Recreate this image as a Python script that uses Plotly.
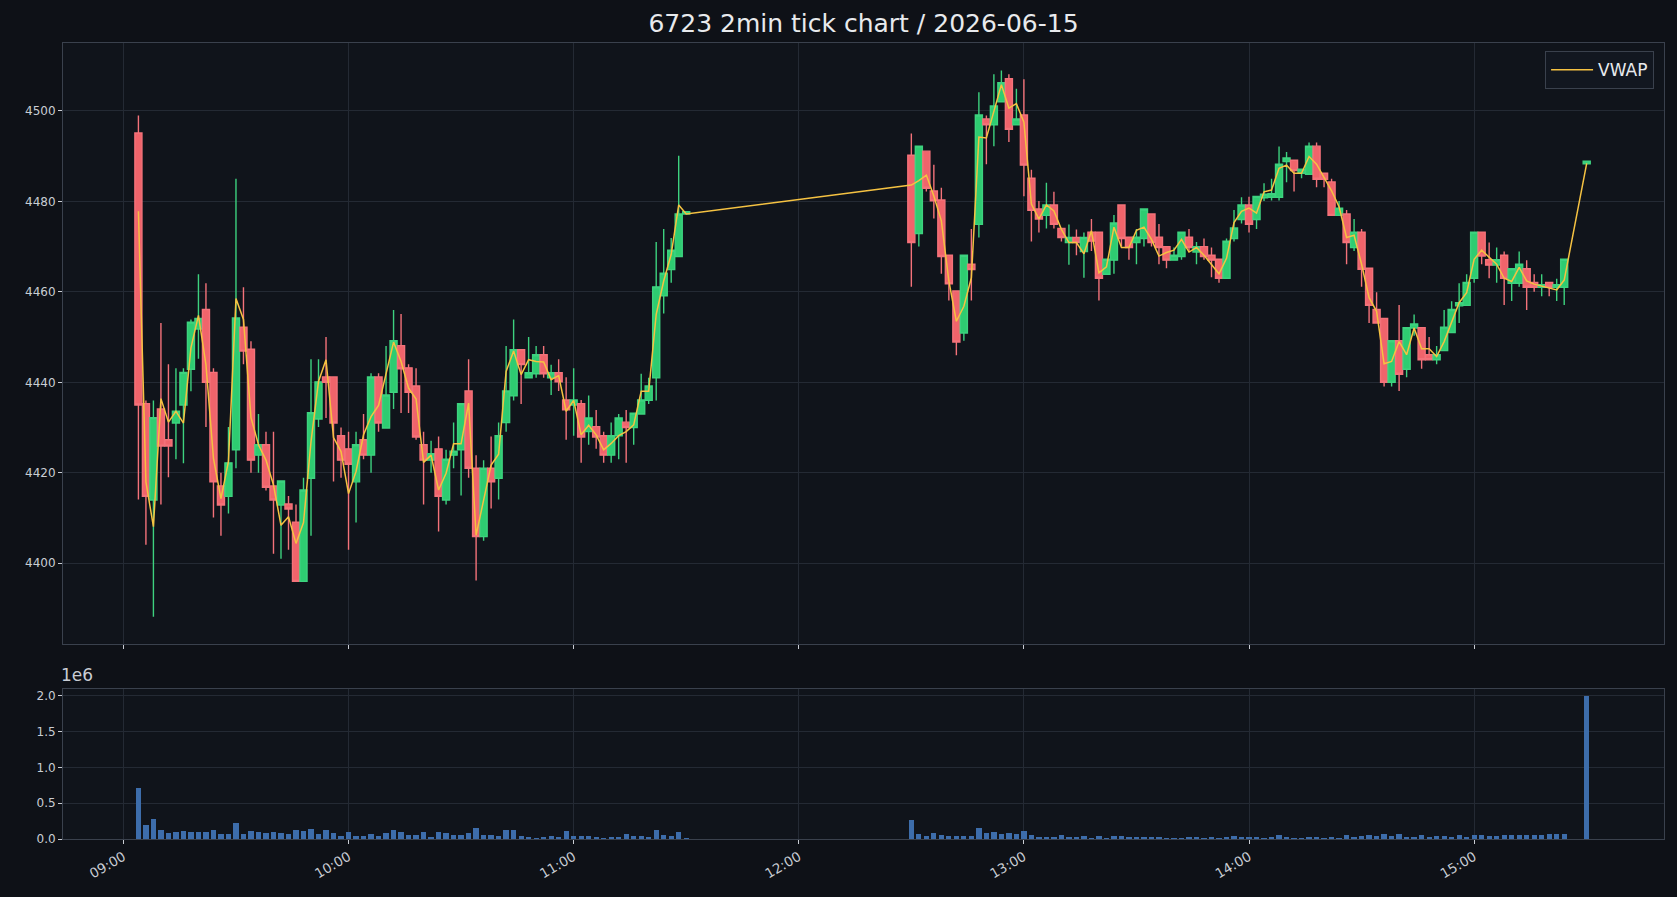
import plotly.graph_objects as go

DATE = "2026-06-15"
TITLE = "6723 2min tick chart / 2026-06-15"

# ---------------- morning session bars ----------------
am_time = [
    "09:04", "09:06", "09:08", "09:10", "09:12", "09:14", "09:16", "09:18", "09:20", "09:22",
    "09:24", "09:26", "09:28", "09:30", "09:32", "09:34", "09:36", "09:38", "09:40", "09:42",
    "09:44", "09:46", "09:48", "09:50", "09:52", "09:54", "09:56", "09:58", "10:00", "10:02",
    "10:04", "10:06", "10:08", "10:10", "10:12", "10:14", "10:16", "10:18", "10:20", "10:22",
    "10:24", "10:26", "10:28", "10:30", "10:32", "10:34", "10:36", "10:38", "10:40", "10:42",
    "10:44", "10:46", "10:48", "10:50", "10:52", "10:54", "10:56", "10:58", "11:00", "11:02",
    "11:04", "11:06", "11:08", "11:10", "11:12", "11:14", "11:16", "11:18", "11:20", "11:22",
    "11:24", "11:26", "11:28", "11:30",
]
am_open = [
    4495.1, 4435.3, 4414.0, 4434.1, 4427.3, 4431.0, 4435.0, 4442.9, 4451.8, 4456.1,
    4442.2, 4417.1, 4414.8, 4425.1, 4452.2, 4447.3, 4423.9, 4426.2, 4417.1, 4412.9,
    4413.1, 4409.1, 4396.0, 4418.8, 4431.9, 4441.2, 4441.2, 4428.2, 4425.3, 4418.0,
    4427.3, 4423.9, 4441.2, 4429.9, 4437.8, 4448.1, 4443.2, 4439.2, 4426.2, 4422.8,
    4425.3, 4414.0, 4423.9, 4425.1, 4438.1, 4421.0, 4405.9, 4421.0, 4418.8, 4431.1,
    4437.0, 4447.2, 4441.0, 4441.9, 4446.1, 4441.0, 4442.1, 4436.1, 4435.0, 4435.3,
    4429.1, 4430.2, 4428.2, 4423.9, 4428.2, 4431.2, 4430.0, 4433.0, 4436.0, 4441.0,
    4459.1, 4464.9, 4467.8, 4477.2,
]
am_high = [
    4499.0, 4436.0, 4436.0, 4453.1, 4444.0, 4443.1, 4443.1, 4453.9, 4463.9, 4461.9,
    4443.1, 4420.0, 4430.1, 4485.0, 4461.0, 4449.1, 4433.0, 4429.1, 4429.1, 4418.2,
    4414.9, 4413.0, 4418.9, 4445.1, 4445.1, 4450.0, 4441.2, 4430.0, 4429.1, 4429.1,
    4433.0, 4442.0, 4442.0, 4448.0, 4456.0, 4455.1, 4444.0, 4443.1, 4429.1, 4427.1,
    4428.0, 4425.1, 4431.1, 4435.3, 4445.1, 4423.9, 4422.8, 4428.0, 4431.1, 4448.0,
    4453.9, 4447.2, 4450.0, 4448.0, 4448.0, 4443.9, 4445.1, 4441.1, 4443.1, 4436.1,
    4437.1, 4433.9, 4429.1, 4431.1, 4433.0, 4433.9, 4433.2, 4441.9, 4441.0, 4471.0,
    4473.9, 4471.9, 4490.1, 4477.7,
]
am_low = [
    4414.1, 4404.1, 4388.2, 4413.0, 4419.0, 4423.0, 4422.1, 4438.0, 4445.2, 4430.1,
    4410.1, 4406.1, 4411.0, 4421.0, 4444.0, 4420.0, 4420.0, 4416.1, 4402.1, 4401.0,
    4403.0, 4396.0, 4396.0, 4406.1, 4430.1, 4432.1, 4418.1, 4418.9, 4403.0, 4409.0,
    4423.0, 4420.0, 4429.1, 4429.9, 4434.1, 4433.2, 4433.2, 4427.3, 4413.0, 4420.0,
    4407.0, 4413.0, 4421.0, 4415.0, 4418.9, 4396.2, 4405.0, 4412.1, 4414.1, 4429.1,
    4436.0, 4435.2, 4441.0, 4441.0, 4441.0, 4437.2, 4438.1, 4427.3, 4428.2, 4422.2,
    4426.2, 4425.3, 4422.2, 4422.2, 4423.0, 4422.2, 4426.2, 4433.0, 4435.2, 4436.0,
    4455.2, 4462.0, 4467.8, 4477.2,
]
am_close = [
    4435.0, 4414.8, 4432.2, 4425.9, 4425.9, 4433.6, 4442.2, 4453.3, 4454.1, 4440.0,
    4418.0, 4412.9, 4422.2, 4454.2, 4446.9, 4422.8, 4426.2, 4416.8, 4414.0, 4418.2,
    4412.0, 4396.0, 4416.2, 4433.3, 4440.1, 4440.0, 4431.0, 4422.8, 4421.9, 4426.2,
    4423.9, 4441.2, 4431.0, 4437.2, 4449.2, 4443.0, 4437.8, 4427.9, 4422.8, 4424.2,
    4414.8, 4423.0, 4424.8, 4435.3, 4421.0, 4405.9, 4421.0, 4418.0, 4428.2, 4438.1,
    4447.2, 4443.9, 4442.1, 4446.1, 4441.9, 4442.1, 4440.1, 4433.9, 4436.1, 4427.9,
    4432.1, 4427.9, 4423.9, 4428.2, 4432.1, 4430.0, 4433.2, 4436.1, 4439.2, 4461.1,
    4464.1, 4469.2, 4477.2, 4477.7,
]
am_vwap = [
    4477.8, 4418.0, 4408.1, 4436.4, 4431.2, 4433.6, 4431.0, 4447.6, 4454.8, 4443.9,
    4423.2, 4414.3, 4422.5, 4458.5, 4453.9, 4432.2, 4426.2, 4422.8, 4417.3, 4408.4,
    4410.3, 4404.4, 4409.0, 4426.9, 4440.2, 4445.0, 4427.8, 4424.7, 4415.4, 4420.3,
    4428.4, 4432.4, 4434.9, 4442.1, 4448.9, 4444.6, 4438.7, 4436.3, 4422.3, 4423.9,
    4416.2, 4419.9, 4426.4, 4426.4, 4435.4, 4406.2, 4414.0, 4421.7, 4424.1, 4442.4,
    4446.9, 4441.7, 4445.0, 4444.6, 4444.5, 4440.6, 4441.5, 4433.6, 4436.0, 4428.4,
    4430.5, 4428.4, 4425.1, 4426.5, 4428.2, 4429.1, 4430.6, 4438.0, 4438.0, 4455.0,
    4462.4, 4468.3, 4479.2, 4477.2,
]
am_volume = [
    712000, 195000, 280000, 128000, 86000, 100000, 114000, 100000, 100000, 100000,
    128000, 72000, 72000, 225000, 72000, 114000, 100000, 86000, 100000, 86000,
    72000, 128000, 114000, 142000, 72000, 128000, 86000, 44000, 100000, 44000,
    44000, 72000, 44000, 86000, 128000, 100000, 58000, 58000, 100000, 30000,
    100000, 86000, 58000, 58000, 86000, 156000, 58000, 58000, 44000, 128000,
    128000, 44000, 30000, 17000, 30000, 44000, 30000, 114000, 44000, 44000,
    44000, 30000, 17000, 30000, 30000, 72000, 44000, 44000, 30000, 128000,
    60000, 46000, 98000, 3000,
]

# ---------------- afternoon session bars ----------------
pm_time = [
    "12:30", "12:32", "12:34", "12:36", "12:38", "12:40", "12:42", "12:44", "12:46", "12:48",
    "12:50", "12:52", "12:54", "12:56", "12:58", "13:00", "13:02", "13:04", "13:06", "13:08",
    "13:10", "13:12", "13:14", "13:16", "13:18", "13:20", "13:22", "13:24", "13:26", "13:28",
    "13:30", "13:32", "13:34", "13:36", "13:38", "13:40", "13:42", "13:44", "13:46", "13:48",
    "13:50", "13:52", "13:54", "13:56", "13:58", "14:00", "14:02", "14:04", "14:06", "14:08",
    "14:10", "14:12", "14:14", "14:16", "14:18", "14:20", "14:22", "14:24", "14:26", "14:28",
    "14:30", "14:32", "14:34", "14:36", "14:38", "14:40", "14:42", "14:44", "14:46", "14:48",
    "14:50", "14:52", "14:54", "14:56", "14:58", "15:00", "15:02", "15:04", "15:06", "15:08",
    "15:10", "15:12", "15:14", "15:16", "15:18", "15:20", "15:22", "15:24", "15:30",
]
pm_open = [
    4490.2, 4472.9, 4491.1, 4482.3, 4480.3, 4468.1, 4460.2, 4450.9, 4466.1, 4474.9,
    4498.2, 4496.9, 4502.0, 4507.1, 4496.9, 4499.1, 4485.1, 4478.3, 4476.9, 4479.2,
    4474.0, 4470.9, 4472.0, 4468.9, 4473.2, 4473.2, 4463.9, 4467.0, 4479.2, 4472.1,
    4470.9, 4471.8, 4477.2, 4472.1, 4470.0, 4467.0, 4467.8, 4472.1, 4468.8, 4470.0,
    4468.1, 4467.2, 4463.0, 4471.8, 4476.0, 4479.2, 4476.0, 4480.8, 4480.9, 4480.9,
    4488.8, 4489.1, 4486.2, 4486.0, 4492.2, 4486.2, 4484.3, 4476.9, 4477.2, 4469.8,
    4473.2, 4465.2, 4456.1, 4454.1, 4440.0, 4449.2, 4442.9, 4452.0, 4452.1, 4446.1,
    4445.0, 4447.0, 4451.0, 4456.9, 4457.0, 4463.0, 4473.2, 4467.1, 4465.9, 4468.1,
    4461.9, 4461.9, 4465.1, 4462.1, 4461.0, 4462.1, 4461.0, 4461.0, 4488.3,
]
pm_high = [
    4495.0, 4492.2, 4491.1, 4488.1, 4483.0, 4468.1, 4460.2, 4468.1, 4473.9, 4504.1,
    4499.0, 4508.1, 4508.9, 4508.1, 4504.9, 4507.0, 4487.0, 4480.1, 4484.1, 4482.1,
    4474.0, 4474.9, 4473.8, 4473.1, 4476.1, 4473.2, 4467.2, 4477.0, 4479.2, 4472.1,
    4473.9, 4478.3, 4477.2, 4475.0, 4470.0, 4469.8, 4473.2, 4473.9, 4471.0, 4471.8,
    4469.8, 4467.2, 4471.8, 4478.1, 4480.9, 4481.0, 4481.1, 4484.0, 4485.0, 4492.1,
    4490.9, 4489.1, 4487.1, 4493.0, 4493.0, 4486.2, 4485.0, 4480.1, 4478.1, 4476.1,
    4473.9, 4465.2, 4459.9, 4454.1, 4449.2, 4457.1, 4452.1, 4455.0, 4452.1, 4450.0,
    4448.0, 4456.0, 4457.9, 4461.9, 4463.9, 4473.2, 4473.2, 4470.9, 4469.8, 4468.9,
    4465.1, 4468.9, 4467.0, 4463.9, 4463.9, 4462.1, 4462.9, 4467.2, 4488.9,
]
pm_low = [
    4461.1, 4470.0, 4482.2, 4476.2, 4464.0, 4458.1, 4446.0, 4449.2, 4458.1, 4472.0,
    4488.2, 4492.2, 4502.0, 4493.1, 4496.9, 4481.1, 4471.1, 4473.1, 4474.0, 4474.0,
    4471.1, 4466.0, 4468.1, 4463.1, 4469.0, 4458.1, 4463.9, 4464.0, 4470.0, 4467.1,
    4466.1, 4470.0, 4470.0, 4466.1, 4465.2, 4467.0, 4467.1, 4469.0, 4466.1, 4467.1,
    4463.2, 4462.0, 4463.0, 4471.1, 4475.1, 4473.1, 4473.9, 4480.1, 4480.2, 4480.2,
    4484.2, 4482.2, 4485.1, 4486.0, 4483.1, 4483.1, 4476.9, 4476.9, 4466.1, 4469.0,
    4461.1, 4453.1, 4453.1, 4439.1, 4439.1, 4438.1, 4441.1, 4450.3, 4443.0, 4445.0,
    4444.0, 4447.0, 4451.0, 4453.1, 4457.0, 4462.0, 4466.1, 4463.0, 4462.0, 4457.1,
    4458.0, 4461.1, 4456.0, 4460.0, 4459.0, 4459.0, 4458.0, 4457.1, 4488.3,
]
pm_close = [
    4470.9, 4492.2, 4482.9, 4480.1, 4467.8, 4461.8, 4448.9, 4468.1, 4464.9, 4499.1,
    4496.9, 4501.1, 4506.2, 4495.9, 4498.2, 4488.0, 4478.0, 4476.1, 4479.2, 4474.9,
    4472.0, 4472.0, 4470.9, 4472.0, 4471.2, 4463.0, 4467.2, 4475.2, 4471.8, 4469.8,
    4472.1, 4478.3, 4470.9, 4469.8, 4467.0, 4468.1, 4473.2, 4469.8, 4470.0, 4467.8,
    4467.0, 4463.0, 4471.2, 4474.1, 4479.2, 4474.9, 4481.1, 4481.6, 4481.7, 4488.2,
    4489.6, 4486.8, 4487.1, 4492.2, 4484.9, 4484.9, 4476.9, 4478.5, 4470.9, 4473.2,
    4465.0, 4457.0, 4453.1, 4440.0, 4449.2, 4441.8, 4452.1, 4452.9, 4445.0, 4445.0,
    4446.1, 4452.2, 4456.1, 4457.6, 4462.1, 4473.2, 4467.9, 4465.9, 4467.1, 4463.0,
    4465.1, 4466.1, 4461.0, 4461.0, 4461.6, 4461.0, 4461.6, 4467.2, 4488.9,
]
pm_vwap = [
    4483.6, 4484.6, 4485.8, 4481.2, 4475.7, 4462.4, 4453.5, 4456.8, 4463.1, 4494.2,
    4494.0, 4499.7, 4505.8, 4500.6, 4501.6, 4497.5, 4479.4, 4476.1, 4479.2, 4477.9,
    4473.8, 4470.9, 4470.9, 4468.4, 4473.5, 4464.2, 4465.5, 4474.3, 4469.8, 4469.8,
    4473.6, 4474.3, 4471.6, 4467.9, 4468.7, 4469.2, 4471.6, 4468.8, 4469.8, 4468.1,
    4466.1, 4464.0, 4467.4, 4475.3, 4477.8, 4478.5, 4477.4, 4482.1, 4482.5, 4487.3,
    4488.0, 4486.2, 4486.2, 4489.9, 4488.2, 4485.3, 4482.3, 4478.8, 4472.0, 4472.5,
    4466.1, 4458.7, 4455.7, 4444.1, 4444.6, 4449.0, 4446.1, 4452.0, 4447.4, 4447.4,
    4445.7, 4449.0, 4453.5, 4457.6, 4459.8, 4467.2, 4469.2, 4467.6, 4466.1, 4463.0,
    4462.3, 4465.4, 4462.4, 4461.7, 4461.3, 4460.9, 4460.4, 4462.6, 4488.4,
]
pm_volume = [
    268000, 72000, 44000, 86000, 58000, 44000, 44000, 44000, 44000, 156000,
    86000, 100000, 72000, 86000, 72000, 114000, 58000, 30000, 30000, 30000,
    58000, 30000, 30000, 44000, 17000, 44000, 17000, 44000, 44000, 30000,
    30000, 30000, 30000, 30000, 17000, 17000, 17000, 30000, 30000, 17000,
    30000, 17000, 30000, 44000, 30000, 30000, 30000, 17000, 30000, 58000,
    30000, 17000, 17000, 30000, 30000, 17000, 30000, 17000, 58000, 30000,
    44000, 58000, 44000, 72000, 44000, 72000, 30000, 30000, 58000, 30000,
    44000, 44000, 30000, 58000, 30000, 58000, 58000, 44000, 44000, 58000,
    58000, 58000, 58000, 58000, 58000, 72000, 72000, 72000, 2000000,
]

hour_ticks = ["09:00", "10:00", "11:00", "12:00", "13:00", "14:00", "15:00"]
price_ticks = [4400, 4420, 4440, 4460, 4480, 4500]
vol_ticks = [0, 500000, 1000000, 1500000, 2000000]
vol_tick_text = ["0.0", "0.5", "1.0", "1.5", "2.0"]

# ---------------- assemble ----------------
times = [f"{DATE} {t}" for t in am_time + pm_time]
o = am_open + pm_open
h = am_high + pm_high
l = am_low + pm_low
c = am_close + pm_close
vw = am_vwap + pm_vwap
vol = am_volume + pm_volume

BG = "#0e1117"
PLOT_BG = "#10141b"
GRID = "#242a34"
SPINE = "#3a414d"
TXT = "#c9cdd4"
FONT = "DejaVu Sans"
UP = "#2ecc71"
DOWN = "#f0646b"

fig = go.Figure()
fig.add_trace(go.Candlestick(
    x=times, open=o, high=h, low=l, close=c,
    increasing=dict(fillcolor=UP, line=dict(color="#3dd27f", width=1.4)),
    decreasing=dict(fillcolor=DOWN, line=dict(color="#f4727a", width=1.4)),
    whiskerwidth=0, showlegend=False, name="price",
    xaxis="x", yaxis="y",
))
fig.add_trace(go.Scatter(
    x=times, y=vw, mode="lines", name="VWAP",
    line=dict(color="#f5c242", width=1.5),
    xaxis="x", yaxis="y",
))
fig.add_trace(go.Bar(
    x=times, y=vol, width=84000, marker=dict(color="#3d6dab", line=dict(width=0)),
    showlegend=False, name="volume", xaxis="x2", yaxis="y2",
))

xr = [f"{DATE} 08:43:54", f"{DATE} 15:50:36"]
tickvals = [f"{DATE} {t}" for t in hour_ticks]

axis_common = dict(
    showgrid=True, gridcolor=GRID, gridwidth=1, zeroline=False,
    showline=True, linecolor=SPINE, linewidth=1, mirror=True,
    ticks="outside", ticklen=4, tickcolor=TXT, tickwidth=1,
    tickfont=dict(family=FONT, size=12, color=TXT),
)

fig.update_layout(
    width=1677, height=897, autosize=False,
    paper_bgcolor=BG, plot_bgcolor=PLOT_BG,
    margin=dict(l=63, r=13, t=43, b=58, pad=0),
    boxgap=0.06, boxgroupgap=0, bargap=0,
    title=dict(text=TITLE, x=0.5, xref="paper", y=0.974, yref="container",
               xanchor="center", yanchor="middle",
               font=dict(family=FONT, size=25, color="#e8eaed")),
    legend=dict(x=0.9938, y=0.9897, xanchor="right", yanchor="top",
                bgcolor="#121720", bordercolor=SPINE, borderwidth=1,
                itemwidth=42,
                font=dict(family=FONT, size=17, color="#e8eaed")),
    xaxis=dict(axis_common, type="date", range=xr, domain=[0, 1], anchor="y",
               tickvals=tickvals, ticktext=hour_ticks, showticklabels=False,
               rangeslider=dict(visible=False)),
    yaxis=dict(axis_common, range=[4382.2, 4515.0], domain=[0.2452, 1.0],
               anchor="x", tickvals=price_ticks),
    xaxis2=dict(axis_common, type="date", range=xr, domain=[0, 1], anchor="y2",
                matches="x", tickvals=tickvals, ticktext=hour_ticks, tickangle=-30,
                tickfont=dict(family=FONT, size=13.5, color=TXT)),
    yaxis2=dict(axis_common, range=[0, 2100000], domain=[0.0, 0.1887],
                anchor="x2", tickvals=vol_ticks, ticktext=vol_tick_text),
    annotations=[dict(text="1e6", xref="paper", yref="paper", x=0.0, y=0.191,
                      xanchor="left", yanchor="bottom", showarrow=False, xshift=-4,
                      font=dict(family=FONT, size=17, color=TXT))],
)

fig.write_html("out.html")
